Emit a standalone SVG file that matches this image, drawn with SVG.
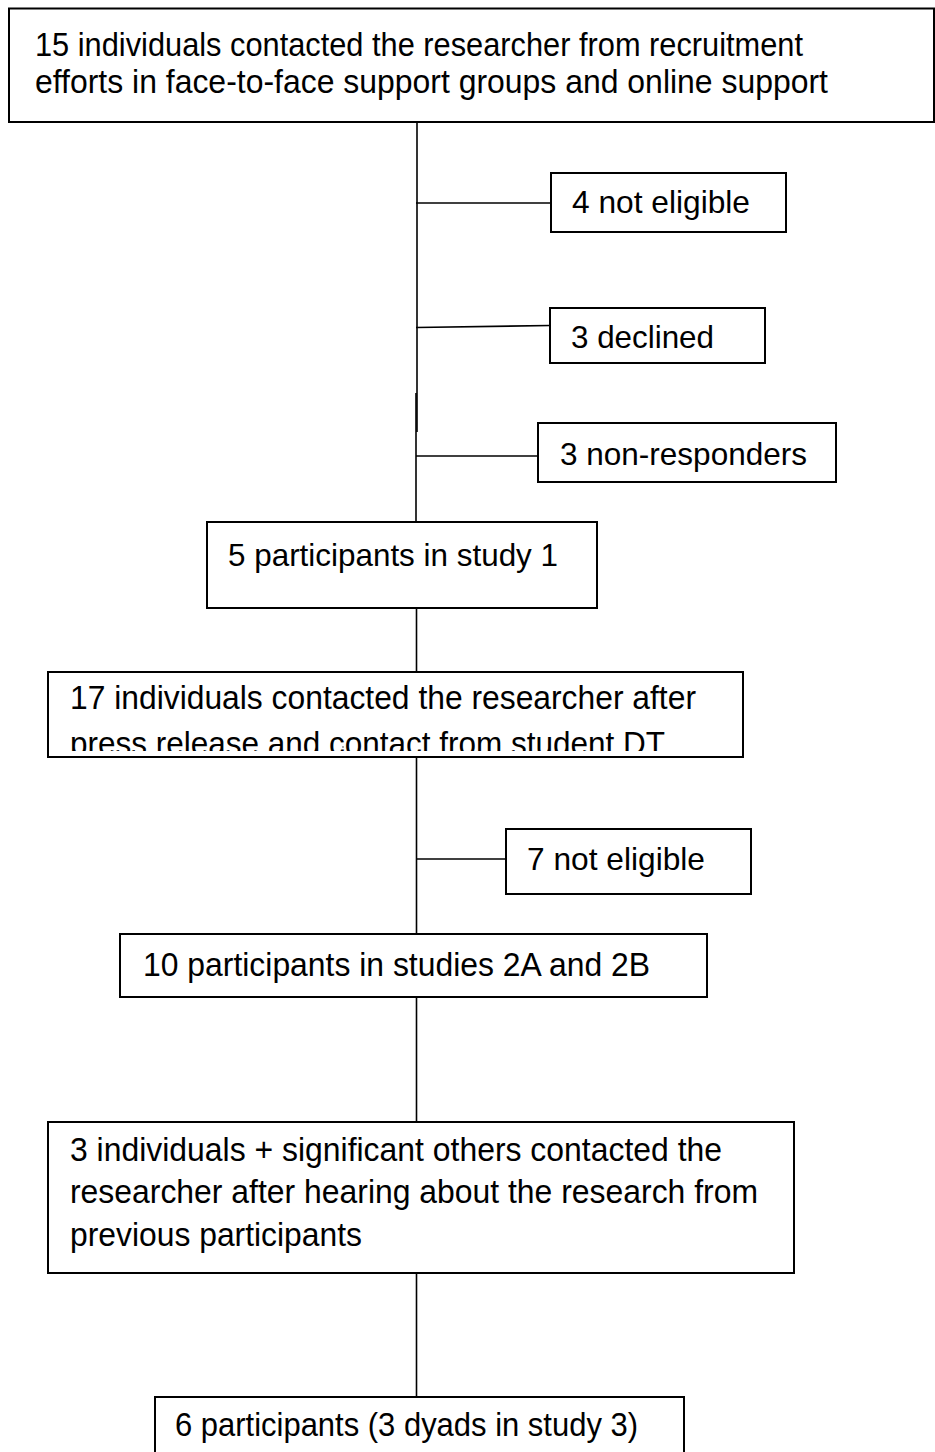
<svg xmlns="http://www.w3.org/2000/svg" width="935" height="1452" viewBox="0 0 935 1452">
<style>
.box{fill:#fff;stroke:#000;stroke-width:2}
.t{font-family:"Liberation Sans",Arial,sans-serif;font-size:31.5px;fill:#000}
.tb{font-family:"Liberation Sans",Arial,sans-serif;font-size:33px;fill:#000}
.c{stroke:#000;stroke-width:1.6;fill:none}
</style>
<defs>
<clipPath id="clip17"><rect x="49" y="673" width="694" height="78"/></clipPath>
</defs>
<rect width="935" height="1452" fill="#fff"/>
<g id="connectors">
<line class="c" x1="417" y1="122" x2="417" y2="432"/>
<line class="c" x1="416" y1="393" x2="416" y2="522"/>
<line class="c" x1="416" y1="203" x2="551" y2="203"/>
<line class="c" x1="416" y1="327.5" x2="550" y2="325.5"/>
<line class="c" x1="416" y1="456" x2="538" y2="456"/>
<line class="c" x1="416.5" y1="608" x2="416.5" y2="672"/>
<line class="c" x1="416.5" y1="757" x2="416.5" y2="934"/>
<line class="c" x1="416" y1="859" x2="506" y2="859"/>
<line class="c" x1="416.5" y1="997" x2="416.5" y2="1122"/>
<line class="c" x1="416.5" y1="1273" x2="416.5" y2="1397"/>
</g>
<g id="n1">
<rect class="box" x="9" y="8.5" width="925" height="113.5"/>
<text class="tb" x="35" y="56" textLength="768" lengthAdjust="spacingAndGlyphs">15 individuals contacted the researcher from recruitment</text>
<text class="tb" x="35" y="93" textLength="793" lengthAdjust="spacingAndGlyphs">efforts in face-to-face support groups and online support</text>
</g>
<g id="n2">
<rect class="box" x="551" y="173" width="235" height="59"/>
<text class="t" x="572" y="213" textLength="178" lengthAdjust="spacingAndGlyphs">4 not eligible</text>
</g>
<g id="n3">
<rect class="box" x="550" y="308" width="215" height="55"/>
<text class="t" x="571" y="348" textLength="143" lengthAdjust="spacingAndGlyphs">3 declined</text>
</g>
<g id="n4">
<rect class="box" x="538" y="423" width="298" height="59"/>
<text class="t" x="560" y="465" textLength="247" lengthAdjust="spacingAndGlyphs">3 non-responders</text>
</g>
<g id="n5">
<rect class="box" x="207" y="522" width="390" height="86"/>
<text class="t" x="228" y="566" textLength="330" lengthAdjust="spacingAndGlyphs">5 participants in study 1</text>
</g>
<g id="n6">
<rect class="box" x="48" y="672" width="695" height="85"/>
<g clip-path="url(#clip17)">
<text class="tb" x="70" y="709" textLength="626" lengthAdjust="spacingAndGlyphs">17 individuals contacted the researcher after</text>
<text class="tb" x="70" y="755" textLength="595" lengthAdjust="spacingAndGlyphs">press release and contact from student DT</text>
</g>
<circle cx="343" cy="747" r="0.9" fill="#888"/>
</g>
<g id="n7">
<rect class="box" x="506" y="829" width="245" height="65"/>
<text class="t" x="527" y="870" textLength="178" lengthAdjust="spacingAndGlyphs">7 not eligible</text>
</g>
<g id="n8">
<rect class="box" x="120" y="934" width="587" height="63"/>
<text class="tb" x="143" y="976" textLength="507" lengthAdjust="spacingAndGlyphs">10 participants in studies 2A and 2B</text>
</g>
<g id="n9">
<rect class="box" x="48" y="1122" width="746" height="151"/>
<text class="tb" x="70" y="1161" textLength="652" lengthAdjust="spacingAndGlyphs">3 individuals + significant others contacted the</text>
<text class="tb" x="70" y="1203" textLength="688" lengthAdjust="spacingAndGlyphs">researcher after hearing about the research from</text>
<text class="tb" x="70" y="1246" textLength="292" lengthAdjust="spacingAndGlyphs">previous participants</text>
</g>
<g id="n10">
<rect class="box" x="155" y="1397" width="529" height="80"/>
<text class="tb" x="175" y="1436" textLength="463" lengthAdjust="spacingAndGlyphs">6 participants (3 dyads in study 3)</text>
</g>
</svg>
